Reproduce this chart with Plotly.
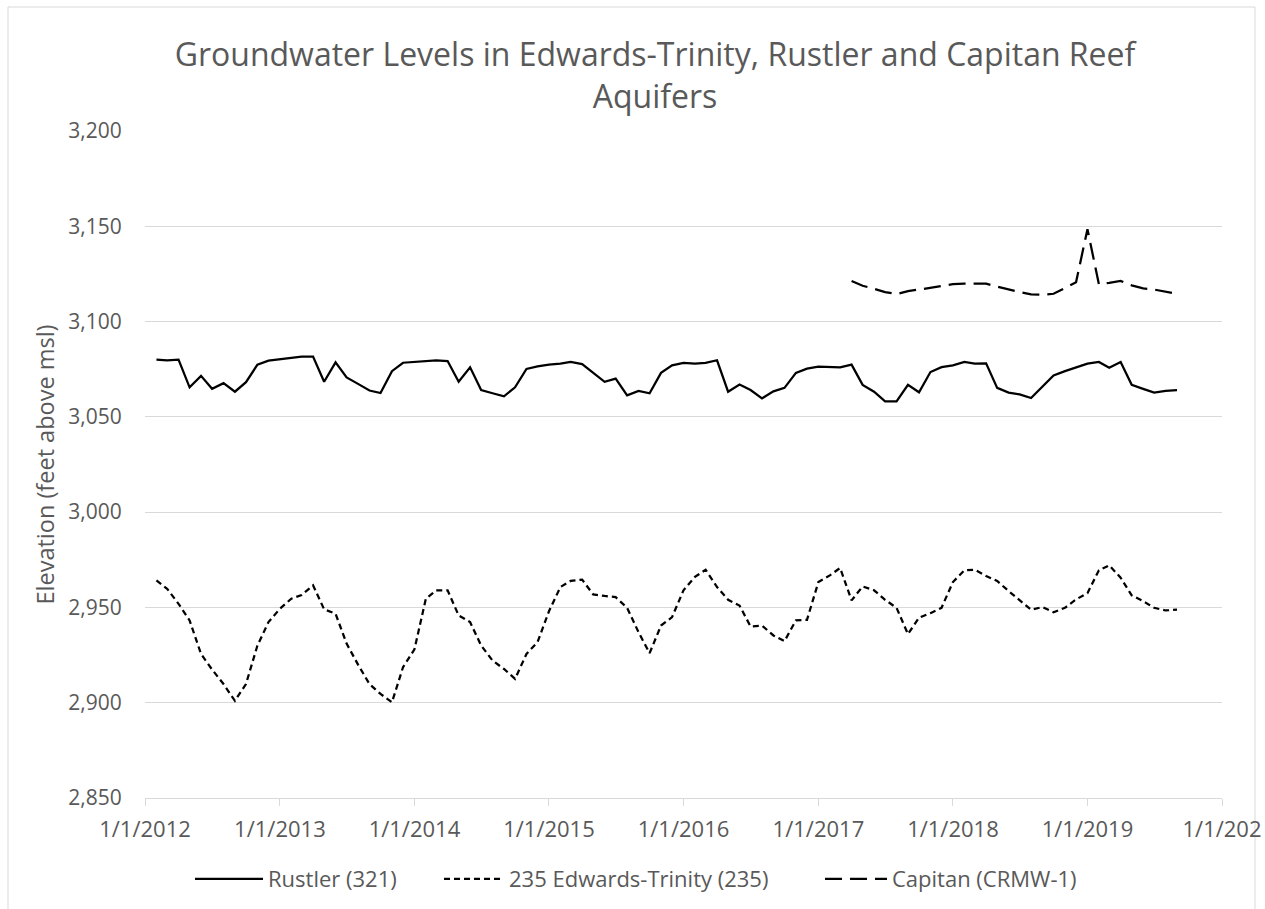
import plotly.graph_objects as go

# ---------------- data ----------------
months_main = [
    "2012-02", "2012-03", "2012-04", "2012-05", "2012-06", "2012-07", "2012-08", "2012-09", "2012-10", "2012-11", "2012-12",
    "2013-01", "2013-02", "2013-03", "2013-04", "2013-05", "2013-06", "2013-07", "2013-08", "2013-09", "2013-10", "2013-11", "2013-12",
    "2014-01", "2014-02", "2014-03", "2014-04", "2014-05", "2014-06", "2014-07", "2014-08", "2014-09", "2014-10", "2014-11", "2014-12",
    "2015-01", "2015-02", "2015-03", "2015-04", "2015-05", "2015-06", "2015-07", "2015-08", "2015-09", "2015-10", "2015-11", "2015-12",
    "2016-01", "2016-02", "2016-03", "2016-04", "2016-05", "2016-06", "2016-07", "2016-08", "2016-09", "2016-10", "2016-11", "2016-12",
    "2017-01", "2017-02", "2017-03", "2017-04", "2017-05", "2017-06", "2017-07", "2017-08", "2017-09", "2017-10", "2017-11", "2017-12",
    "2018-01", "2018-02", "2018-03", "2018-04", "2018-05", "2018-06", "2018-07", "2018-08", "2018-09", "2018-10", "2018-11", "2018-12",
    "2019-01", "2019-02", "2019-03", "2019-04", "2019-05", "2019-06", "2019-07", "2019-08", "2019-09",
]

rustler_321 = [
    3080.0, 3079.7, 3080.0, 3065.5, 3071.5, 3064.7, 3067.7, 3063.2, 3068.2, 3077.4, 3079.5,
    3080.2, 3081.1, 3081.6, 3081.6, 3068.4, 3078.6, 3070.7, 3067.3, 3063.8, 3062.5, 3074.0, 3078.4,
    3078.8, 3079.1, 3079.7, 3079.3, 3068.4, 3076.0, 3064.1, 3062.4, 3060.8, 3065.5, 3075.1, 3076.5,
    3077.4, 3077.9, 3078.8, 3077.7, 3073.0, 3068.4, 3070.1, 3061.3, 3063.6, 3062.4, 3073.1, 3077.0,
    3078.3, 3077.9, 3078.3, 3079.7, 3063.2, 3067.0, 3064.1, 3059.7, 3063.4, 3065.2, 3073.1, 3075.3,
    3076.3, 3076.3, 3076.0, 3077.4, 3066.8, 3063.2, 3058.1, 3058.1, 3066.8, 3062.9, 3073.5, 3076.1,
    3077.0, 3078.8, 3077.9, 3078.1, 3065.2, 3062.7, 3061.8, 3059.9, 3065.9, 3071.7, 3074.0, 3076.1,
    3077.9, 3078.8, 3075.8, 3078.8, 3066.8, 3064.7, 3062.7, 3063.6, 3064.0,
]

edwards_trinity_235 = [
    2964.2, 2959.8, 2951.9, 2943.2, 2925.6, 2917.4, 2909.8, 2901.0, 2909.8, 2930.0, 2942.3,
    2949.3, 2954.6, 2956.5, 2961.6, 2949.0, 2946.7, 2931.0, 2920.0, 2909.8, 2904.6, 2900.2, 2918.6,
    2928.0, 2954.6, 2959.0, 2959.0, 2945.8, 2942.3, 2930.0, 2922.1, 2917.7, 2912.5, 2925.6, 2931.8,
    2948.0, 2960.7, 2963.9, 2964.6, 2956.8, 2956.0, 2955.4, 2949.8, 2937.0, 2926.0, 2940.5, 2944.9,
    2959.0, 2966.0, 2969.8, 2960.7, 2954.0, 2951.0, 2940.0, 2940.5, 2935.3, 2932.3, 2943.2, 2943.5,
    2963.3, 2966.8, 2970.7, 2953.7, 2961.0, 2959.0, 2954.0, 2949.8, 2936.0, 2944.6, 2947.0, 2949.8,
    2963.3, 2969.5, 2969.8, 2966.5, 2963.9, 2958.6, 2953.7, 2948.8, 2950.2, 2947.5, 2949.8, 2954.2,
    2957.5, 2969.5, 2972.1, 2965.6, 2956.3, 2953.3, 2949.8, 2948.4, 2948.8,
]

months_capitan = [
    "2017-04", "2017-05", "2017-06", "2017-07", "2017-08", "2017-09", "2017-10", "2017-11", "2017-12",
    "2018-01", "2018-02", "2018-03", "2018-04", "2018-05", "2018-06", "2018-07", "2018-08", "2018-09", "2018-10", "2018-11", "2018-12",
    "2019-01", "2019-02", "2019-03", "2019-04", "2019-05", "2019-06", "2019-07", "2019-08", "2019-09",
]

capitan_crmw1 = [
    3121.3, 3118.8, 3117.2, 3115.5, 3114.4, 3116.0, 3116.8, 3117.8, 3118.9,
    3119.6, 3119.9, 3120.0, 3119.9, 3118.3, 3116.8, 3115.5, 3114.3, 3114.1, 3114.6, 3117.8, 3120.6,
    3148.5, 3119.6, 3120.3, 3121.3, 3119.0, 3117.4, 3116.8, 3115.8, 3114.6,
]

x_tick_vals = ["2012-01-01", "2013-01-01", "2014-01-01", "2015-01-01", "2016-01-01",
               "2017-01-01", "2018-01-01", "2019-01-01", "2020-01-01"]
x_tick_text = ["1/1/2012", "1/1/2013", "1/1/2014", "1/1/2015", "1/1/2016",
               "1/1/2017", "1/1/2018", "1/1/2019", "1/1/202"]
y_tick_vals = [2850, 2900, 2950, 3000, 3050, 3100, 3150, 3200]
y_tick_text = ["2,850", "2,900", "2,950", "3,000", "3,050", "3,100", "3,150", "3,200"]

# ---------------- figure ----------------
FONT = "Open Sans"
TXT = "#595959"
GRID = "#d9d9d9"
W, H = 1265, 909

fig = go.Figure()
fig.add_trace(go.Scatter(x=months_main, y=rustler_321, mode="lines", name="Rustler (321)",
                         legend="legend",
                         line=dict(color="black", width=2.25)))
fig.add_trace(go.Scatter(x=months_main, y=edwards_trinity_235, mode="lines",
                         name="235 Edwards-Trinity (235)", legend="legend2",
                         line=dict(color="black", width=2.25, dash="6px,4px")))
fig.add_trace(go.Scatter(x=months_capitan, y=capitan_crmw1, mode="lines", name="Capitan (CRMW-1)",
                         legend="legend3",
                         line=dict(color="black", width=2.25, dash="17px,8px")))

legend_common = dict(orientation="h", xanchor="left", yanchor="middle",
                     xref="container", yref="container", y=1 - 879 / H,
                     font=dict(family=FONT, size=22, color=TXT),
                     bgcolor="rgba(0,0,0,0)", borderwidth=0)

fig.update_layout(
    width=W, height=H,
    margin=dict(l=145, r=43, t=131, b=111, pad=0, autoexpand=False),
    paper_bgcolor="white", plot_bgcolor="white",
    font=dict(family=FONT, color=TXT, size=20),
    title=dict(text="Groundwater Levels in Edwards-Trinity, Rustler and Capitan Reef<br>Aquifers",
               x=655 / W, xanchor="center", xref="container",
               y=1 - 66 / H, yanchor="top", yref="container",
               font=dict(family=FONT, size=32, color=TXT)),
    showlegend=True,
    legend=dict(legend_common, x=190 / W, itemwidth=68),
    legend2=dict(legend_common, x=439 / W, itemwidth=60),
    legend3=dict(legend_common, x=820 / W, itemwidth=62),
    xaxis=dict(type="date", range=["2012-01-01", "2020-01-01"], automargin=False,
               tickmode="array", tickvals=x_tick_vals, ticktext=x_tick_text,
               showgrid=False, zeroline=False,
               showline=True, linecolor=GRID, linewidth=1,
               ticks="outside", ticklen=7, tickcolor=GRID, tickwidth=1,
               ticklabelstandoff=5,
               tickfont=dict(family=FONT, size=22, color=TXT)),
    yaxis=dict(range=[2850, 3200], automargin=False,
               tickmode="array", tickvals=y_tick_vals, ticktext=y_tick_text,
               showgrid=True, gridcolor=GRID, gridwidth=1, zeroline=False, showline=False,
               ticks="outside", ticklen=18, tickcolor="rgba(0,0,0,0)",
               tickfont=dict(family=FONT, size=21, color=TXT),
               title=dict(text="Elevation (feet above msl)", standoff=7,
                          font=dict(family=FONT, size=23.5, color=TXT))),
    shapes=[dict(type="rect", xref="paper", yref="paper",
                 x0=(8 - 145) / 1077, x1=(1255 - 145) / 1077,
                 y0=-(915 - 798) / 667, y1=1 + (131 - 7) / 667,
                 line=dict(color=GRID, width=1), fillcolor="rgba(0,0,0,0)", layer="below")],
)

fig.write_html("out.html", config={"displayModeBar": False},
               post_script="document.body.style.margin='0px';")
